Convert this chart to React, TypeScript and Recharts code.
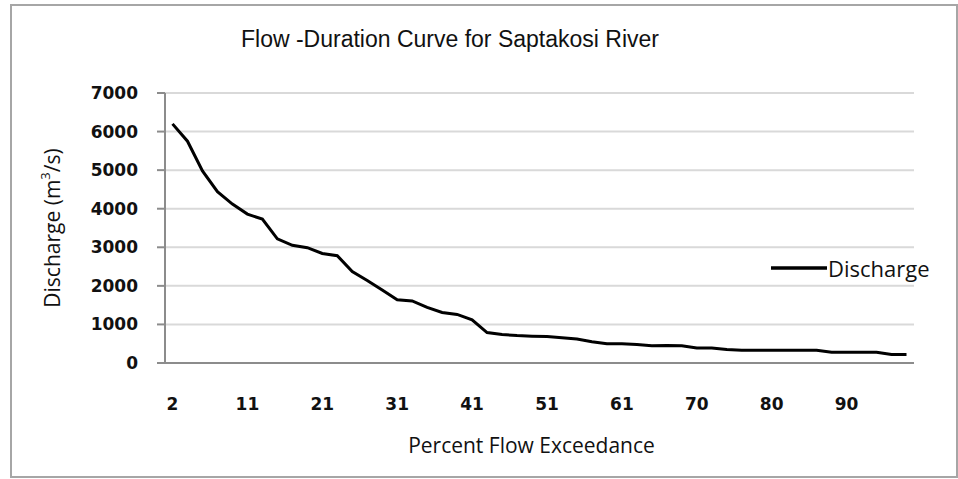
import { LineChart, Line, XAxis, YAxis, CartesianGrid, Legend } from "recharts";

// percent of time flow is equalled or exceeded (category axis, Excel style)
const exceedance = [
  "2", "4", "6", "7", "9", "11", "13", "15", "17", "19",
  "21", "23", "25", "27", "29", "31", "33", "35", "37", "39",
  "41", "43", "45", "47", "49", "51", "53", "55", "57", "59",
  "61", "63", "64", "66", "68", "70", "72", "74", "76", "78",
  "80", "82", "84", "86", "88", "90", "92", "94", "96", "98",
];

// discharge in m3/s
const discharge = [
  6200, 5750, 4980, 4440, 4120, 3860, 3730, 3220, 3050, 2990,
  2840, 2780, 2370, 2140, 1890, 1640, 1610, 1440, 1310, 1260,
  1120, 790, 740, 710, 695, 685, 655, 620, 550, 500,
  500, 480, 450, 455, 450, 390, 390, 350, 330, 330,
  330, 330, 330, 330, 280, 280, 280, 280, 220, 220,
];

const yTicks = [0, 1000, 2000, 3000, 4000, 5000, 6000, 7000];

const data = exceedance.map((pct, i) => ({ pct, discharge: discharge[i] }));

const LABEL_FONT = "'Open Sans', sans-serif";
const TICK_FONT = "'DejaVu Sans', sans-serif";
const AXIS_GRAY = "#8c8c8c";

function YTitle(props: any) {
  const vb = props.viewBox || {};
  const cx = 52;
  const cy = vb.height ? vb.y + vb.height / 2 : 228;
  return (
    <text
      x={cx}
      y={cy}
      transform={`rotate(-90, ${cx}, ${cy})`}
      textAnchor="middle"
      dominantBaseline="central"
      fontFamily={LABEL_FONT}
      fontSize={21}
      fill="#111"
    >
      Discharge (m
      <tspan dy={-7} fontSize={13}>3</tspan>
      <tspan dy={7}>/s)</tspan>
    </text>
  );
}

function XTitle(props: any) {
  const vb = props.viewBox || {};
  const cx = vb.width ? vb.x + vb.width / 2 : 540;
  return (
    <text x={cx - 8} y={453} textAnchor="middle" fontFamily={LABEL_FONT} fontSize={21} fill="#111">
      Percent Flow Exceedance
    </text>
  );
}

function LegendBox() {
  return (
    <div style={{ display: "flex", alignItems: "center", fontFamily: LABEL_FONT, fontSize: 22, color: "#111" }}>
      <svg width={56} height={6}>
        <line x1={0} y1={3} x2={56} y2={3} stroke="#000" strokeWidth={3.5} />
      </svg>
      <span style={{ marginLeft: 1 }}>Discharge</span>
    </div>
  );
}

export default function App() {
  return (
    <div style={{ position: "absolute", left: 0, top: 0, width: 958, height: 479, background: "#fff" }}>
      <div
        style={{
          position: "absolute",
          left: 10,
          top: 4,
          width: 944,
          height: 470,
          border: "2px solid #a6a6a6",
        }}
      />
      <div
        style={{
          position: "absolute",
          left: 0,
          width: 900,
          top: 26,
          textAlign: "center",
          fontFamily: "'Liberation Sans', Arial, sans-serif",
          fontSize: 23,
          color: "#111",
        }}
      >
        Flow -Duration Curve for Saptakosi River
      </div>
      <LineChart
        width={958}
        height={479}
        data={data}
        margin={{ top: 93, right: 44, bottom: 56, left: 0 }}
        style={{ position: "absolute", left: 0, top: 0 }}
      >
        <CartesianGrid vertical={false} stroke="#d9d9d9" strokeWidth={2} />
        <XAxis
          dataKey="pct"
          interval={4}
          tickLine={false}
          axisLine={{ stroke: AXIS_GRAY, strokeWidth: 2 }}
          padding={{ left: 7.5, right: 7.5 }}
          height={60}
          tickMargin={29}
          tick={{ fill: "#111", fontFamily: TICK_FONT, fontWeight: 700, fontSize: 17 }}
          label={<XTitle />}
        />
        <YAxis
          width={165}
          domain={[0, 7000]}
          ticks={yTicks}
          interval={0}
          tickSize={8}
          tickMargin={19}
          tickLine={{ stroke: AXIS_GRAY, strokeWidth: 2 }}
          axisLine={{ stroke: AXIS_GRAY, strokeWidth: 2 }}
          tick={{ fill: "#111", fontFamily: TICK_FONT, fontWeight: 700, fontSize: 17 }}
          label={<YTitle />}
        />
        <Legend
          layout="horizontal"
          verticalAlign="middle"
          align="center"
          wrapperStyle={{ left: 771, top: 253, width: 180 }}
          content={<LegendBox />}
        />
        <Line
          type="linear"
          dataKey="discharge"
          name="Discharge"
          stroke="#000"
          strokeWidth={3}
          dot={false}
          isAnimationActive={false}
        />
      </LineChart>
    </div>
  );
}
